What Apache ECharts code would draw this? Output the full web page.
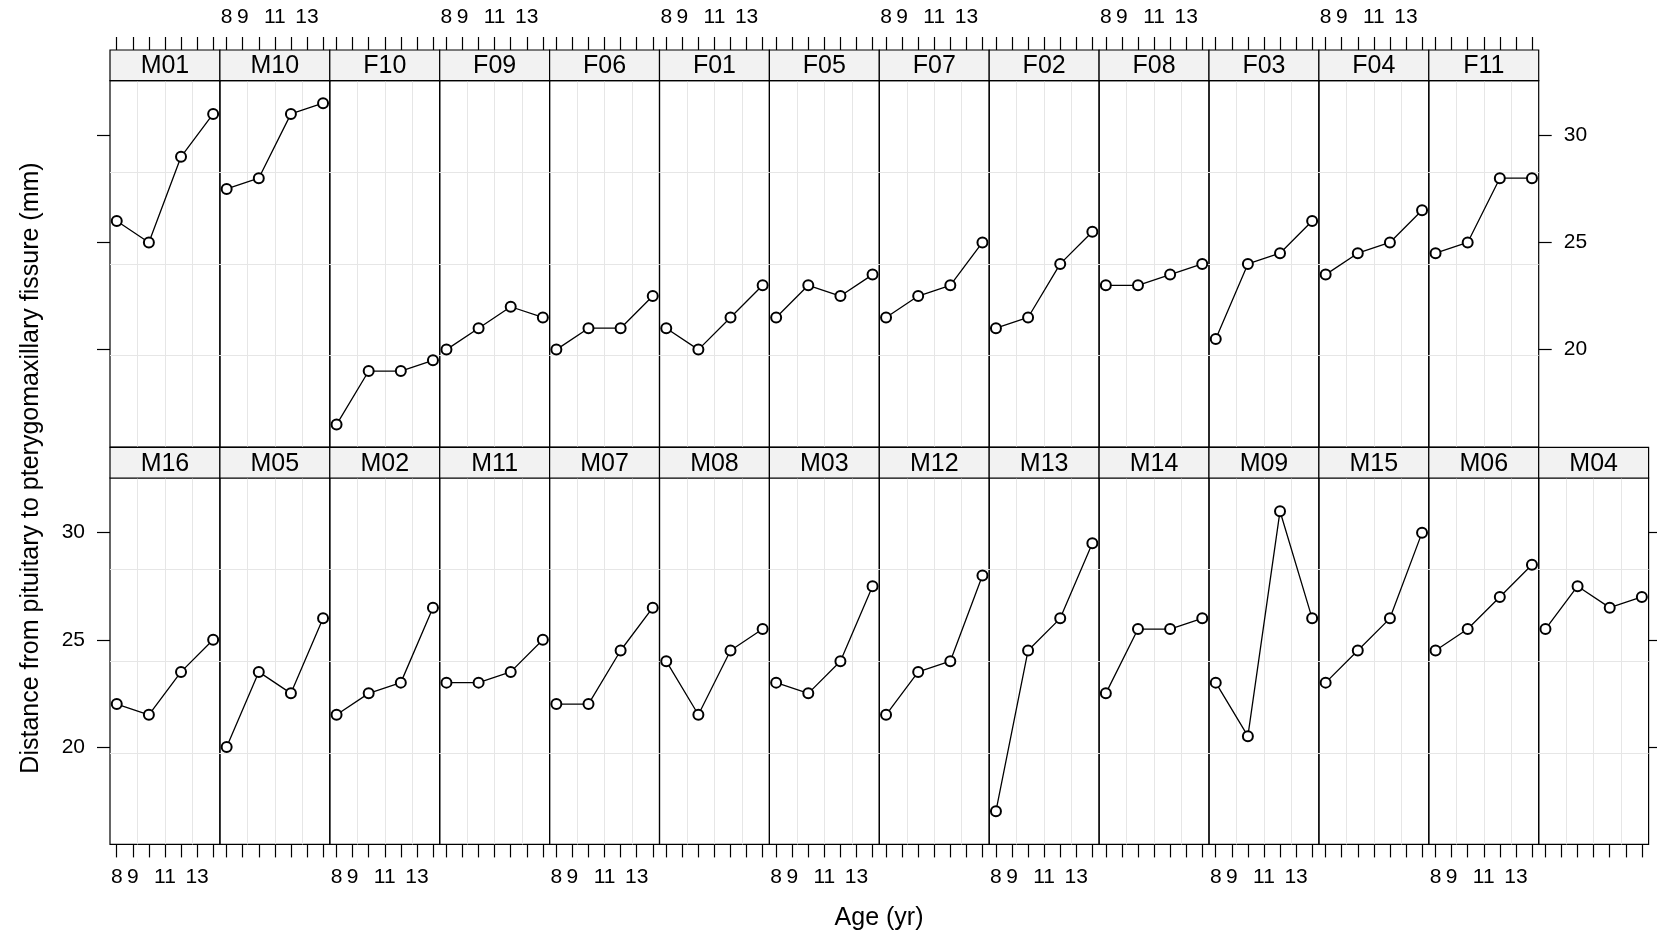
<!DOCTYPE html>
<html>
<head>
<meta charset="utf-8" />
<style>
    html, body { margin: 0; height: 100%; background: #fff; }
    #chart { width: 1657px; height: 938px; }
</style>
<script src="https://cdn.jsdelivr.net/npm/echarts@6/dist/echarts.min.js"></script>
</head>
<body>
<div id="chart"></div>
<script type="text/javascript">
    // ages at which distance was measured
    var ages = [8, 10, 12, 14];

    // top row of panels, left to right
    var topSubjects = ['M01', 'M10', 'F10', 'F09', 'F06', 'F01', 'F05', 'F07', 'F02', 'F08', 'F03', 'F04', 'F11'];
    var topValues = [
        [26, 25, 29, 31],
        [27.5, 28, 31, 31.5],
        [16.5, 19, 19, 19.5],
        [20, 21, 22, 21.5],
        [20, 21, 21, 22.5],
        [21, 20, 21.5, 23],
        [21.5, 23, 22.5, 23.5],
        [21.5, 22.5, 23, 25],
        [21, 21.5, 24, 25.5],
        [23, 23, 23.5, 24],
        [20.5, 24, 24.5, 26],
        [23.5, 24.5, 25, 26.5],
        [24.5, 25, 28, 28]
    ];

    // bottom row of panels, left to right
    var bottomSubjects = ['M16', 'M05', 'M02', 'M11', 'M07', 'M08', 'M03', 'M12', 'M13', 'M14', 'M09', 'M15', 'M06', 'M04'];
    var bottomValues = [
        [22, 21.5, 23.5, 25],
        [20, 23.5, 22.5, 26],
        [21.5, 22.5, 23, 26.5],
        [23, 23, 23.5, 25],
        [22, 22, 24.5, 26.5],
        [24, 21.5, 24.5, 25.5],
        [23, 22.5, 24, 27.5],
        [21.5, 23.5, 24, 28],
        [17, 24.5, 26, 29.5],
        [22.5, 25.5, 25.5, 26],
        [23, 20.5, 31, 26],
        [23, 24.5, 26, 30],
        [24.5, 25.5, 27, 28.5],
        [25.5, 27.5, 26.5, 27]
    ];

    var xTicks = [8, 9, 10, 11, 12, 13, 14];
    var xLabels = [8, 9, 11, 13];
    var yTicks = [20, 25, 30];

    // panel geometry (px)
    var left0 = 110, colW = 109.9;
    var stripH = 30.7, panelH = 366.4;
    var stripTop = [50, 447.3];
    var font = 'Liberation Sans, Arial, sans-serif';

    var grids = [], xAxes = [], yAxes = [], series = [], graphics = [];

    function tickAxis(extra) {
        var ax = {
            type: 'value',
            axisLine: { show: false, onZero: false },
            splitLine: { show: false },
            axisTick: { show: true, length: 13, lineStyle: { color: '#000', width: 1.2 } },
            axisLabel: { fontSize: 21, color: '#000', fontFamily: font }
        };
        for (var k in extra) ax[k] = extra[k];
        return ax;
    }

    function gridLineAxis(g) {
        // 3 equally spaced reference lines inside the panel
        return {
            gridIndex: g, type: 'value', min: 0, max: 4, interval: 1,
            axisLine: { show: false, onZero: false }, axisTick: { show: false }, axisLabel: { show: false },
            splitLine: { show: true, showMinLine: false, showMaxLine: false, lineStyle: { color: '#e6e6e6', width: 1 } }
        };
    }

    function addPanel(row, col, name, vals, lastInRow) {
        var g = grids.length;
        var x = left0 + col * colW;
        var top = stripTop[row] + stripH;
        grids.push({
            left: x, top: top, width: colW, height: panelH,
            show: true, borderColor: '#000', borderWidth: 1.2, backgroundColor: 'transparent'
        });

        var labeled = row === 1 ? (col % 2 === 0) : (col % 2 === 1);
        var xi = xAxes.length;
        var xa = tickAxis({
            gridIndex: g, min: 7.58, max: 14.42,
            position: row === 0 ? 'top' : 'bottom',
            offset: row === 0 ? stripH : 0
        });
        xa.axisTick.customValues = xTicks;
        xa.axisLabel.show = labeled;
        xa.axisLabel.customValues = xLabels;
        xa.axisLabel.margin = 22;
        xAxes.push(xa);
        xAxes.push(gridLineAxis(g));

        var yi = yAxes.length;
        var ya = tickAxis({ gridIndex: g, min: 15.45, max: 32.55, position: 'left', show: col === 0 });
        ya.axisTick.customValues = yTicks;
        ya.axisLabel.show = row === 1;
        ya.axisLabel.customValues = yTicks;
        ya.axisLabel.margin = 25;
        yAxes.push(ya);
        yAxes.push(gridLineAxis(g));
        if (lastInRow) {
            var yr = tickAxis({ gridIndex: g, min: 15.45, max: 32.55, position: 'right' });
            yr.axisTick.customValues = yTicks;
            yr.axisLabel.show = row === 0;
            yr.axisLabel.customValues = yTicks;
            yr.axisLabel.margin = 25;
            yAxes.push(yr);
        }

        series.push({
            type: 'line',
            xAxisIndex: xi, yAxisIndex: yi,
            data: ages.map(function (a, i) { return [a, vals[i]]; }),
            symbol: 'emptyCircle', symbolSize: 10,
            lineStyle: { color: '#000', width: 1.3 },
            itemStyle: { color: '#000', borderColor: '#000', borderWidth: 1.3 },
            z: 5
        });

        // strip
        graphics.push({
            type: 'rect',
            shape: { x: x, y: stripTop[row], width: colW, height: stripH },
            style: { fill: '#f2f2f2', stroke: '#000', lineWidth: 1.2 },
            z: 10
        });
        graphics.push({
            type: 'text',
            style: {
                text: name, x: x + colW / 2, y: stripTop[row] + stripH / 2 + 1,
                align: 'center', verticalAlign: 'middle',
                font: '25px ' + font, fill: '#000'
            },
            z: 11
        });
    }

    topSubjects.forEach(function (s, c) { addPanel(0, c, s, topValues[c], c === topSubjects.length - 1); });
    bottomSubjects.forEach(function (s, c) { addPanel(1, c, s, bottomValues[c], c === bottomSubjects.length - 1); });

    // axis titles
    graphics.push({
        type: 'text',
        rotation: Math.PI / 2,
        x: 31, y: 468,
        style: {
            text: 'Distance from pituitary to pterygomaxillary fissure (mm)',
            align: 'center', verticalAlign: 'middle',
            font: '25px ' + font, fill: '#000'
        }
    });
    graphics.push({
        type: 'text',
        style: {
            text: 'Age (yr)', x: 879, y: 918,
            align: 'center', verticalAlign: 'middle',
            font: '25px ' + font, fill: '#000'
        }
    });

    var myChart = echarts.init(document.getElementById('chart'));
    myChart.setOption({
        animation: false,
        backgroundColor: '#fff',
        grid: grids,
        xAxis: xAxes,
        yAxis: yAxes,
        series: series,
        graphic: graphics
    });
</script>
</body>
</html>
